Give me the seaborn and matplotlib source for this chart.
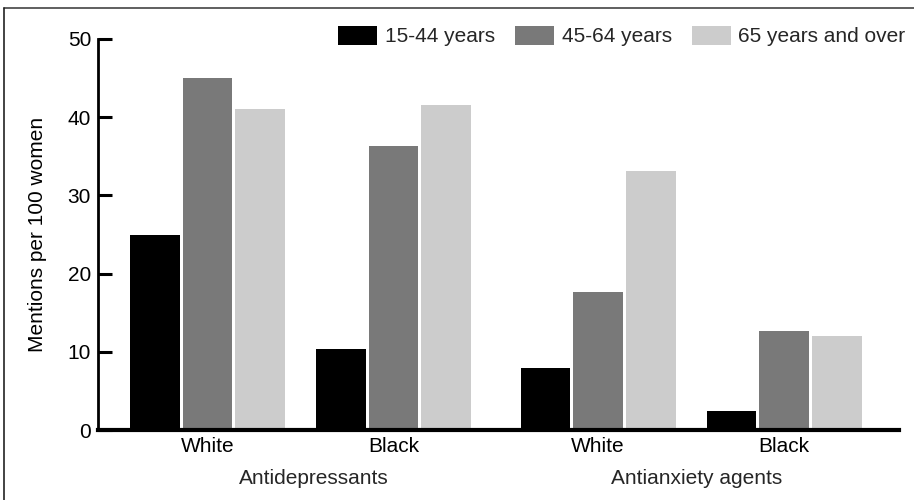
import matplotlib
matplotlib.use("Agg")
import matplotlib.pyplot as plt
from matplotlib.lines import Line2D
from matplotlib.patches import Patch
import seaborn as sns
import pandas as pd

# ---- data ----
drug_classes = ["Antidepressants", "Antidepressants", "Antianxiety agents", "Antianxiety agents"]
races = ["White", "Black", "White", "Black"]
age_groups = ["15-44 years", "45-64 years", "65 years and over"]
vals_15_44 = [25.0, 10.4, 7.9, 2.4]
vals_45_64 = [45.0, 36.3, 17.7, 12.7]
vals_65_up = [41.0, 41.6, 33.1, 12.0]
colors = ["#000000", "#797979", "#cccccc"]

# ---- layout ----
group_pos = [0.0, 1.0, 2.1, 3.1]
rows = []
for series, age in zip([vals_15_44, vals_45_64, vals_65_up], age_groups):
    for p, r, d, v in zip(group_pos, races, drug_classes, series):
        rows.append({"pos": p, "race": r, "drug": d, "age": age, "value": v})
df = pd.DataFrame(rows)

sns.set_theme(style="white")
plt.rcParams["font.family"] = ["Liberation Sans", "DejaVu Sans"]
plt.rcParams["font.size"] = 15

fig = plt.figure(figsize=(9.14, 5.0), dpi=100)
ax = fig.add_axes([98 / 914, 70 / 500, (899 - 98) / 914, (430 - 39) / 500])

sns.barplot(data=df, x="pos", y="value", hue="age", hue_order=age_groups,
            palette=colors, native_scale=True, width=0.85, gap=0.06,
            saturation=1, errorbar=None, linewidth=0, legend=False, ax=ax)

ax.set_ylim(0, 50)
ax.set_xlim((98 - 207.5) / 186, (899 - 207.5) / 186)
ax.set_yticks([0, 10, 20, 30, 40, 50])
ax.set_yticklabels(["0", "10", "20", "30", "40", "50"], fontsize=15, color="black")
ax.set_xticks(group_pos)
ax.set_xticklabels(races, fontsize=15, color="black")
ax.tick_params(axis="y", left=True, direction="in", length=10, width=2.2, pad=5, color="black")
ax.tick_params(axis="x", bottom=False, length=0, pad=5)
ax.set_xlabel("")
ax.set_ylabel("Mentions per 100 women", fontsize=15, color="black", labelpad=15)

for s in ["top", "right"]:
    ax.spines[s].set_visible(False)
ax.spines["left"].set_linewidth(2.0)
ax.spines["left"].set_color("black")
ax.spines["bottom"].set_linewidth(3.0)
ax.spines["bottom"].set_color("black")
ax.spines["bottom"].set_zorder(5)

# group (drug class) labels
trans = matplotlib.transforms.blended_transform_factory(ax.transData, fig.transFigure)
ax.text(0.573, 1 - 479 / 500, drug_classes[0], transform=trans, ha="center", va="center", fontsize=15)
ax.text(2.63, 1 - 479 / 500, drug_classes[2], transform=trans, ha="center", va="center", fontsize=15)

# legend
handles = [Patch(facecolor=c, edgecolor="none") for c in colors]
ax.legend(handles, age_groups, loc="center left", ncol=3,
          bbox_to_anchor=(338 / 914, 1 - 36 / 500), bbox_transform=fig.transFigure,
          frameon=False, borderpad=0, borderaxespad=0, handlelength=1.87,
          handleheight=1.05, handletextpad=0.38, columnspacing=0.95, fontsize=15)

# outer frame (top and left edges)
fig.add_artist(Line2D([4 / 914, 1.0], [1 - 8 / 500, 1 - 8 / 500], transform=fig.transFigure,
                      color="#444444", linewidth=1.2))
fig.add_artist(Line2D([4 / 914, 4 / 914], [0, 1 - 8 / 500], transform=fig.transFigure,
                      color="#222222", linewidth=1.2))

fig.savefig("out.png", dpi=100)
